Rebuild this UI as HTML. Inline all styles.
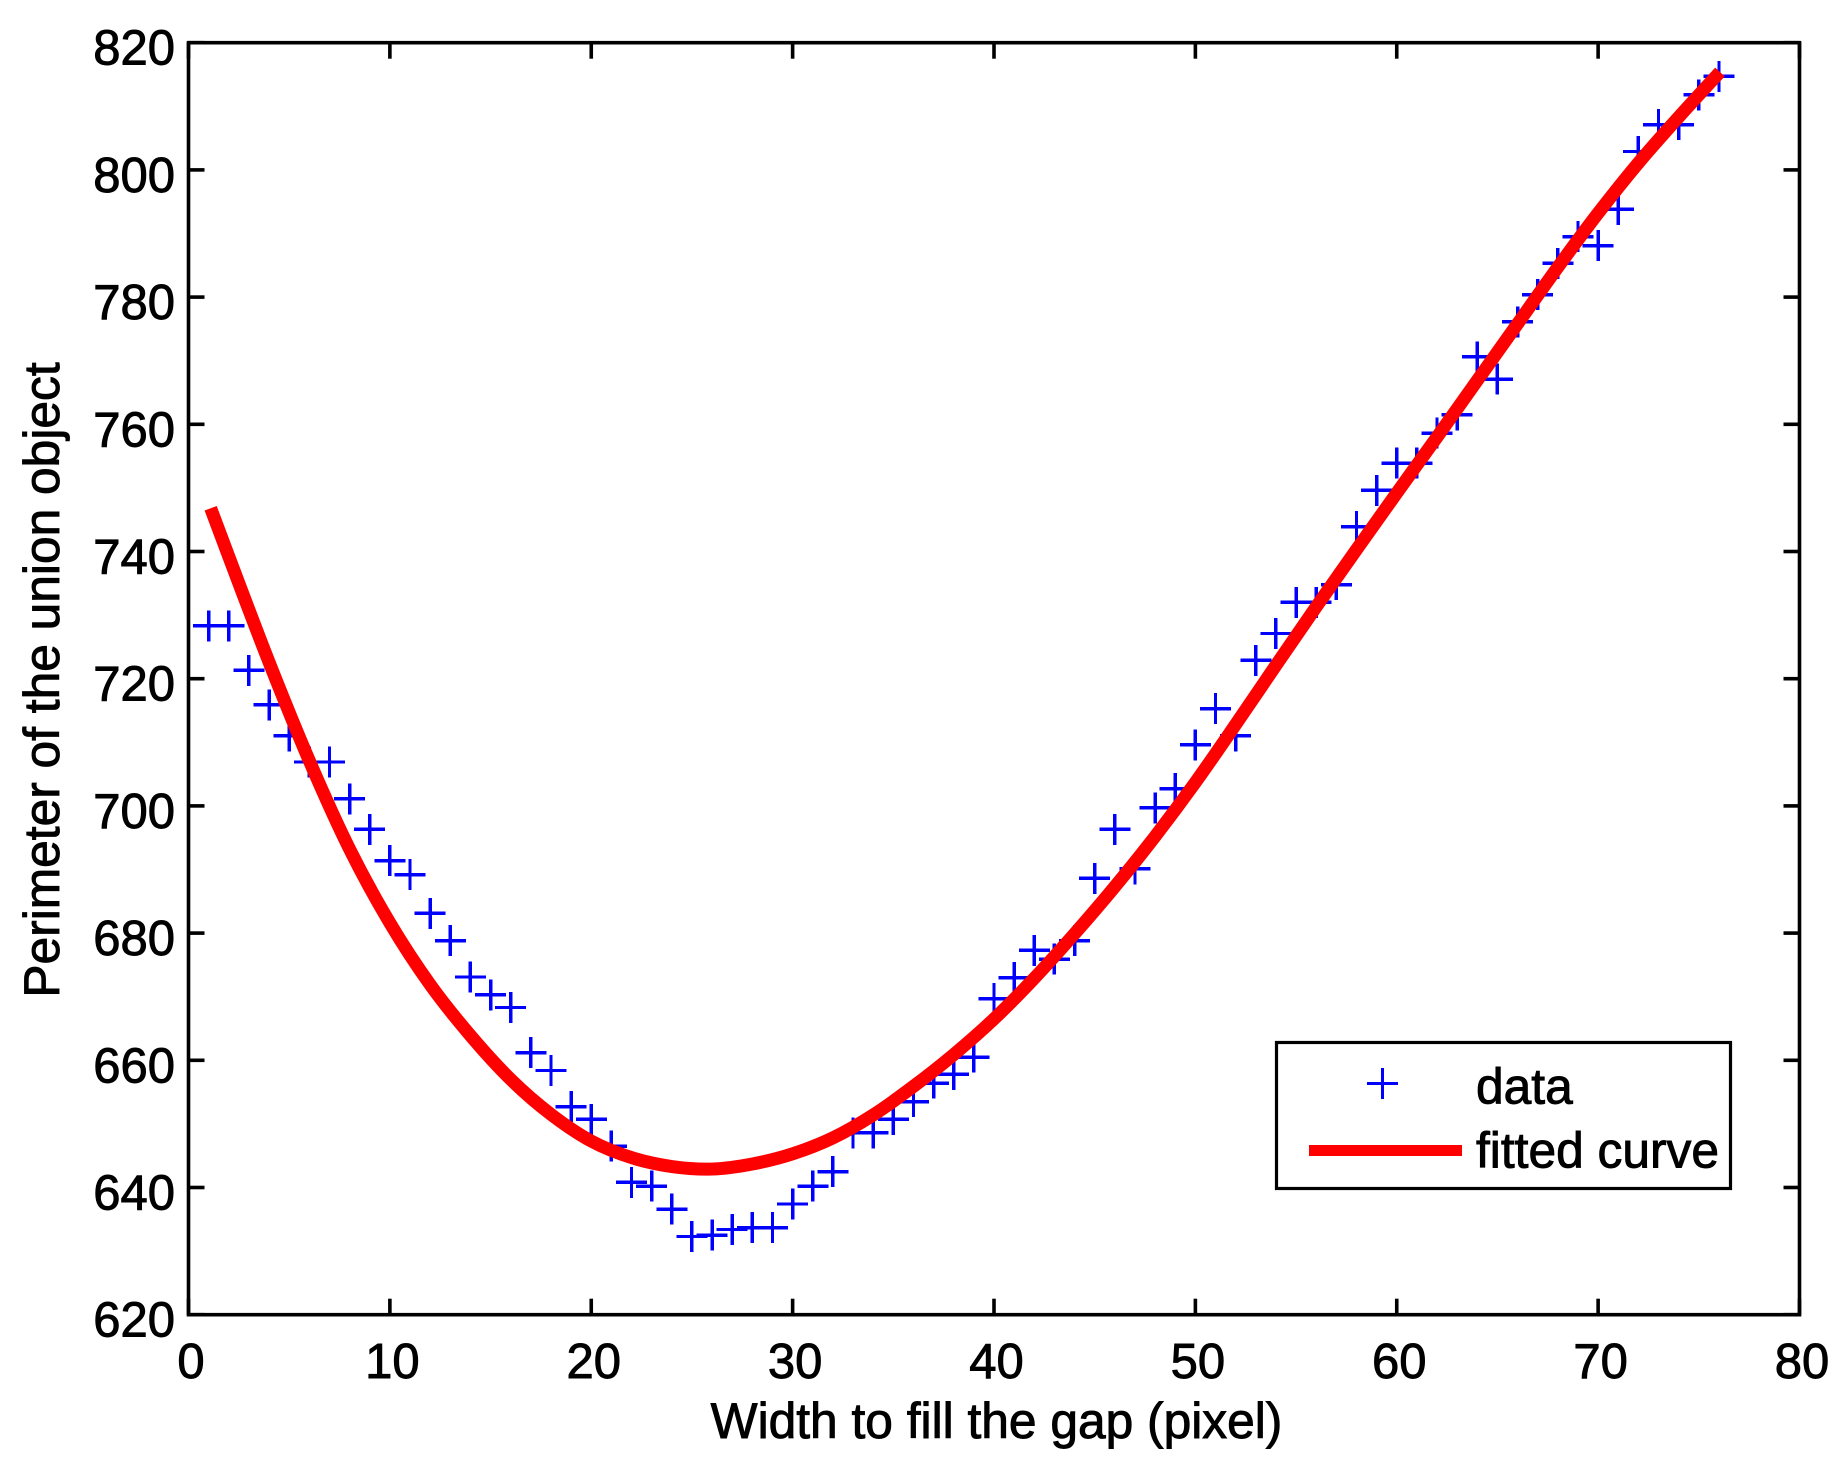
<!DOCTYPE html>
<html lang="en">
<head>
<meta charset="utf-8">
<title>Perimeter of the union object vs width to fill the gap</title>
<style>
html,body{margin:0;padding:0;background:#fff;width:1848px;height:1470px;overflow:hidden}
svg{display:block}
text{font-family:"Liberation Sans",Arial,sans-serif;font-size:49.7px;fill:#000;stroke:#000;stroke-width:.9px}
#xlabels text,#ylabels text{font-size:49px}
</style>
</head>
<body>
<svg id="chart" xmlns="http://www.w3.org/2000/svg" width="1848" height="1470" viewBox="0 0 1848 1470">
  <rect x="0" y="0" width="1848" height="1470" fill="#fff"/>
  <g id="ticks"></g>
  <g id="xlabels"></g>
  <g id="ylabels"></g>
  <g id="markers"></g>
  <path id="fit" fill="none" stroke="#ff0000" stroke-width="13" stroke-linejoin="round" stroke-linecap="butt"/>
  <rect id="frame" fill="none" stroke="#000" stroke-width="3.6"/>
  <text x="996.5" y="1438" text-anchor="middle">Width to fill the gap (pixel)</text>
  <text text-anchor="middle" transform="translate(59 680) rotate(-90)">Perimeter of the union object</text>
  <g>
    <rect x="1276.5" y="1042.5" width="454" height="146" fill="#fff" stroke="#000" stroke-width="3.2"/>
    <g stroke="#0000ff" stroke-width="3.4" shape-rendering="crispEdges">
      <line x1="1367" y1="1083.5" x2="1398" y2="1083.5"/>
      <line x1="1382.5" y1="1068" x2="1382.5" y2="1099"/>
    </g>
    <text x="1476" y="1103.5">data</text>
    <line x1="1309" y1="1150.5" x2="1462" y2="1150.5" stroke="#ff0000" stroke-width="11" shape-rendering="crispEdges"/>
    <text x="1476" y="1167.5">fitted curve</text>
  </g>
</svg>
<script>
const xTickValues = [0,10,20,30,40,50,60,70,80];
const yTickValues = [620,640,660,680,700,720,740,760,780,800,820];
const dataX = [1,2,3,4,5,6,7,8,9,10,11,12,13,14,15,16,17,18,19,20,21,22,23,24,25,26,27,28,29,30,31,32,33,34,35,36,37,38,39,40,41,42,43,44,45,46,47,48,49,50,51,52,53,54,55,56,57,58,59,60,61,62,63,64,65,66,67,68,69,70,71,72,73,74,75,76];
const dataY = [728.3,728.3,721.3,715.9,711.0,706.9,706.9,701.1,696.3,691.4,689.2,683.1,678.8,673.1,670.3,668.3,661.2,658.4,652.7,650.7,646.5,640.8,640.2,636.6,632.3,632.5,633.4,633.7,633.7,637.4,640.2,642.5,648.6,648.6,650.7,653.5,656.4,657.8,660.5,669.7,673.0,677.3,675.9,678.8,688.6,696.3,690.1,699.7,702.7,709.6,715.3,711.0,722.9,727.1,732.0,732.0,734.8,743.9,749.6,753.9,753.9,758.6,761.5,770.6,767.1,776.1,780.4,785.3,789.5,788.1,793.8,802.9,807.1,807.1,811.8,814.7];
const fitX = [1.1,2,4,6,8,10,12,14,16,18,20,22,24,26,28,30,32,34,36,38,40,42,44,46,48,50,52,54,56,58,60,62,64,66,68,70,72,74,76.05];
const fitY = [746.8,739.2,722.6,707.1,693.2,681.6,671.9,663.9,657.0,651.5,647.3,644.7,643.3,642.9,643.7,645.3,647.8,651.4,655.9,660.9,666.5,672.9,679.9,687.3,695.2,703.7,712.8,722.1,731.3,740.3,749.2,758.0,766.9,775.8,784.7,793.2,801.1,808.3,815.4];

const SVG_NS = 'http://www.w3.org/2000/svg';
const plotLeft = 188.5, plotRight = 1799.5, plotTop = 42.7, plotBottom = 1314.7;
const xMin = 0, xMax = 80, yMin = 620, yMax = 820;
function xScale(v){ return plotLeft + (v - xMin) / (xMax - xMin) * (plotRight - plotLeft); }
function yScale(v){ return plotBottom - (v - yMin) / (yMax - yMin) * (plotBottom - plotTop); }

function mk(tag, parent){
  const el = document.createElementNS(SVG_NS, tag);
  parent.appendChild(el);
  return el;
}
function seg(parent, x1, y1, x2, y2){
  const l = mk('line', parent);
  l.setAttribute('x1', x1);
  l.setAttribute('y1', y1);
  l.setAttribute('x2', x2);
  l.setAttribute('y2', y2);
  return l;
}

const frame = document.getElementById('frame');
frame.setAttribute('x', plotLeft);
frame.setAttribute('y', plotTop);
frame.setAttribute('width', plotRight - plotLeft);
frame.setAttribute('height', plotBottom - plotTop);

const ticks = document.getElementById('ticks');
ticks.setAttribute('stroke', '#000');
ticks.setAttribute('stroke-width', '3.6');
const xlabels = document.getElementById('xlabels');
const ylabels = document.getElementById('ylabels');
const tickLen = 16;

xTickValues.forEach(function(v){
  const px = xScale(v);
  const bottomTick = seg(ticks, px, plotBottom, px, plotBottom - tickLen);
  
  
  const topTick = seg(ticks, px, plotTop, px, plotTop + tickLen);
  
  
  const t = mk('text', xlabels);
  t.setAttribute('x', px + 2.5);
  t.setAttribute('y', 1378);
  t.setAttribute('text-anchor', 'middle');
  
  
  t.textContent = String(v);
});

yTickValues.forEach(function(v){
  const py = yScale(v);
  const leftTick = seg(ticks, plotLeft, py, plotLeft + tickLen, py);
  
  
  const rightTick = seg(ticks, plotRight, py, plotRight - tickLen, py);
  
  
  const t = mk('text', ylabels);
  t.setAttribute('x', 175);
  t.setAttribute('y', py + 22);
  t.setAttribute('text-anchor', 'end');
  
  
  t.textContent = String(v);
});

const markers = document.getElementById('markers');
markers.setAttribute('stroke', '#0000ff');
markers.setAttribute('stroke-width', '3.4');
markers.setAttribute('shape-rendering', 'crispEdges');
const armLen = 15.5;
dataX.forEach(function(xv, i){
  const cx = xScale(xv), cy = yScale(dataY[i]);
  const g = mk('g', markers);
  
  
  seg(g, cx - armLen, cy, cx + armLen, cy);
  seg(g, cx, cy - armLen, cx, cy + armLen);
});

function smoothPath(px, py){
  let d = 'M' + px[0].toFixed(2) + ' ' + py[0].toFixed(2);
  for (let i = 0; i < px.length - 1; i++){
    const i0 = Math.max(0, i - 1), i3 = Math.min(px.length - 1, i + 2);
    const c1x = px[i] + (px[i + 1] - px[i0]) / 6;
    const c1y = py[i] + (py[i + 1] - py[i0]) / 6;
    const c2x = px[i + 1] - (px[i3] - px[i]) / 6;
    const c2y = py[i + 1] - (py[i3] - py[i]) / 6;
    d += 'C' + c1x.toFixed(2) + ' ' + c1y.toFixed(2) + ' ' + c2x.toFixed(2) + ' ' + c2y.toFixed(2) + ' ' + px[i + 1].toFixed(2) + ' ' + py[i + 1].toFixed(2);
  }
  return d;
}
document.getElementById('fit').setAttribute('d', smoothPath(fitX.map(xScale), fitY.map(yScale)));
</script>
</body>
</html>
